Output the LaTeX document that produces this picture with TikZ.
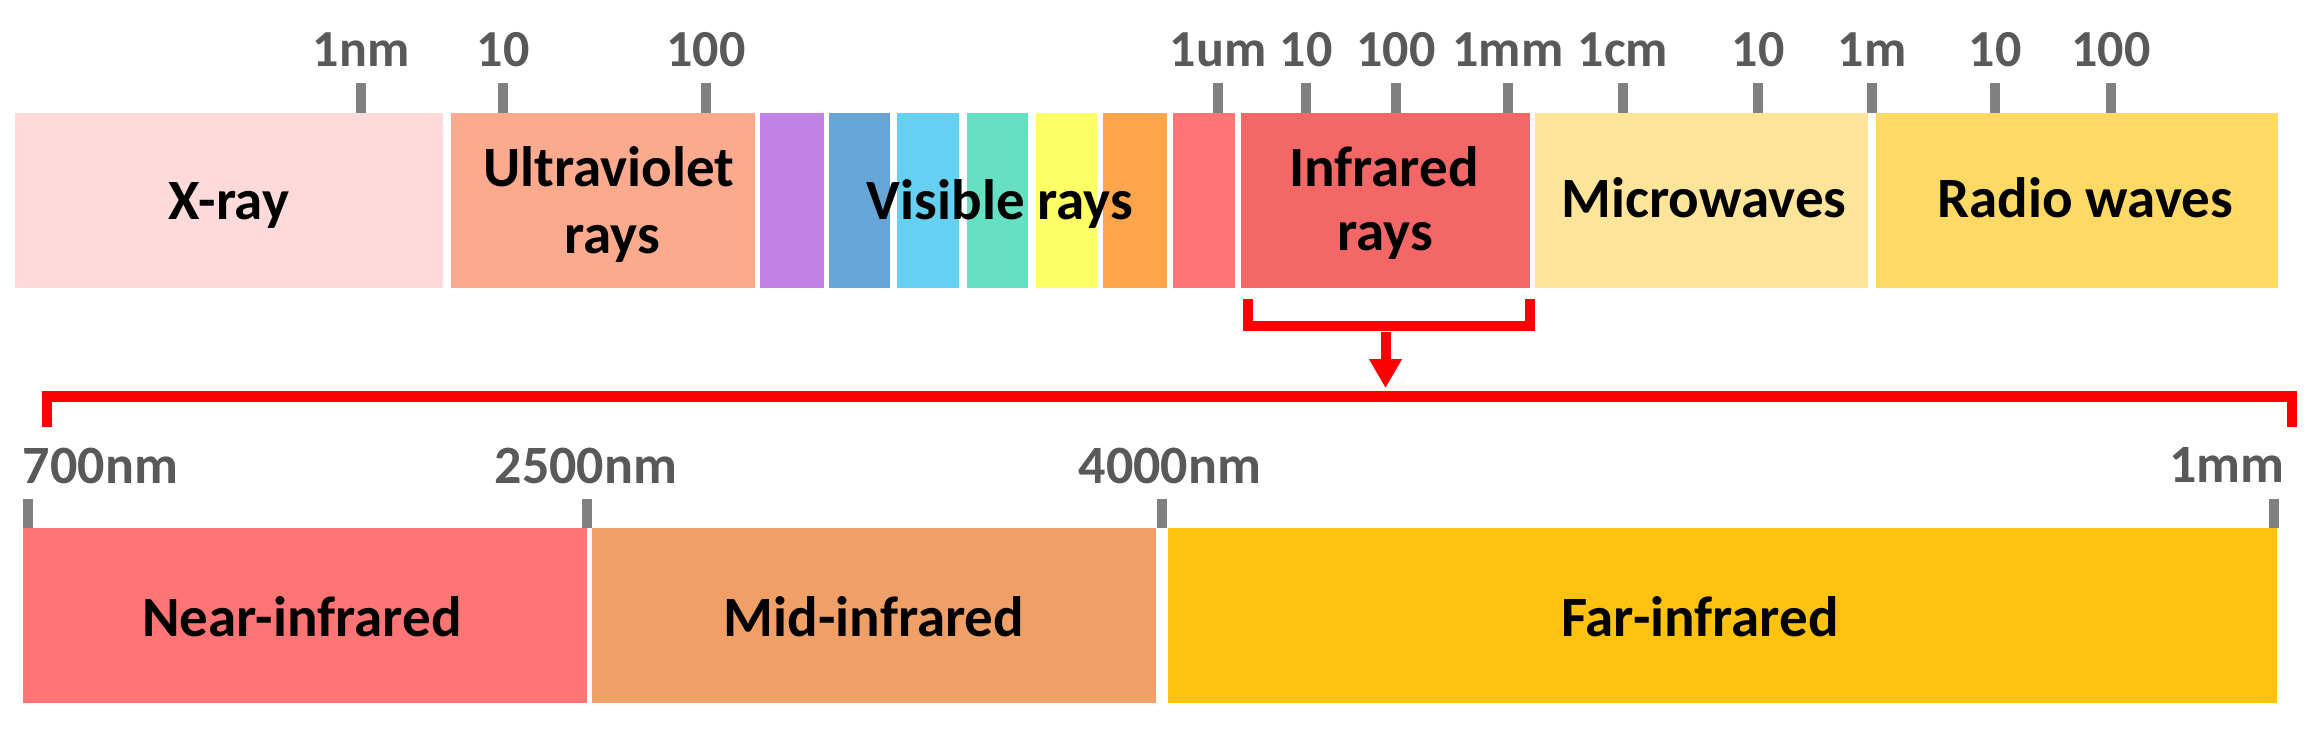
\documentclass[tikz,border=0pt]{standalone}
\usepackage{fontspec}
\setmainfont{Carlito}
\usetikzlibrary{arrows.meta}
\definecolor{cXray}{HTML}{FFDADA}
\definecolor{cUV}{HTML}{FCAA8E}
\definecolor{cPurple}{HTML}{C080E6}
\definecolor{cBlue}{HTML}{66A5D5}
\definecolor{cCyan}{HTML}{66D0F2}
\definecolor{cTeal}{HTML}{66E0C2}
\definecolor{cYellow}{HTML}{FFFF66}
\definecolor{cOrange}{HTML}{FFA64D}
\definecolor{cRedA}{HTML}{FF7575}
\definecolor{cIR}{HTML}{F46767}
\definecolor{cMicro}{HTML}{FFE599}
\definecolor{cRadio}{HTML}{FFD966}
\definecolor{cNear}{HTML}{FF7575}
\definecolor{cMid}{HTML}{F09F66}
\definecolor{cFar}{HTML}{FFC20E}
\definecolor{cTick}{HTML}{808080}
\definecolor{cTickText}{HTML}{595959}
\definecolor{cBracket}{HTML}{FF0000}
\tikzset{
  band/.style={inner sep=0pt, outer sep=0pt, draw=none, minimum height=175pt},
  lbl/.style={anchor=base, inner sep=0pt, font=\fontsize{57}{66}\selectfont\bfseries, text=black},
  ticklbl/.style={anchor=base, inner sep=0pt, font=\fontsize{52}{60}\selectfont\bfseries, text=cTickText},
  lowlbl/.style={anchor=base, inner sep=0pt, font=\fontsize{54}{62}\selectfont\bfseries, text=cTickText},
  tickmark/.style={draw=cTick, line width=10pt},
  bracket/.style={draw=cBracket, line width=10.5pt, line join=miter},
}
\begin{document}
\begin{tikzpicture}[x=1pt, y=-1pt]
\useasboundingbox[fill=white] (0,0) rectangle (2313,729);
% top band
\node[band, fill=cXray,   minimum width=428pt] (xray)   at (229,200.5) {};
\node[band, fill=cUV,     minimum width=304pt] (uv)     at (603,200.5) {};
\node[band, fill=cPurple, minimum width=64pt]  (vpur)   at (792,200.5) {};
\node[band, fill=cBlue,   minimum width=61pt]  (vblu)   at (859.5,200.5) {};
\node[band, fill=cCyan,   minimum width=62pt]  (vcya)   at (928,200.5) {};
\node[band, fill=cTeal,   minimum width=61pt]  (vtea)   at (997.5,200.5) {};
\node[band, fill=cYellow, minimum width=61pt]  (vyel)   at (1066.5,200.5) {};
\node[band, fill=cOrange, minimum width=64pt]  (vora)   at (1135,200.5) {};
\node[band, fill=cRedA,   minimum width=62pt]  (vred)   at (1204,200.5) {};
\node[band, fill=cIR,     minimum width=289pt] (ir)     at (1385.5,200.5) {};
\node[band, fill=cMicro,  minimum width=333pt] (micro)  at (1701.5,200.5) {};
\node[band, fill=cRadio,  minimum width=402pt] (radio)  at (2077,200.5) {};
% top labels
\node[lbl] (lxray)  at (229,219) {X-ray};
\node[lbl] (luv1)   at (609,186) {Ultraviolet};
\node[lbl] (luv2)   at (612,253) {rays};
\node[lbl] (lvis)   at (1000,219) {Visible rays};
\node[lbl] (lir1)   at (1384,186) {Infrared};
\node[lbl] (lir2)   at (1385,250) {rays};
\node[lbl] (lmicro) at (1704,217) {Microwaves};
\node[lbl] (lradio) at (2085,217) {Radio waves};
% top ticks
\foreach \x/\t [count=\i] in {361/1nm, 503/10, 706/100, 1218/1um, 1306/10, 1396/100, 1508/1mm, 1623/1cm, 1758/10, 1872/1m, 1995/10, 2111/100}{
  \draw[tickmark] (\x,83) -- (\x,113);
  \node[ticklbl] (tt\i) at (\x,66) {\t};
}
% small bracket and arrow
\draw[bracket] (1248,299) -- (1248,326) -- (1530,326) -- (1530,299);
\coordinate (arrS) at (1385.5,332);
\coordinate (arrE) at (1385.5,388);
\draw[draw=cBracket, line width=10pt, -{Triangle[width=31pt,length=29pt]}] (arrS) -- (arrE);
% big bracket
\draw[bracket] (47,427) -- (47,396.5) -- (2292,396.5) -- (2292,427);
% lower band
\node[band, fill=cNear, minimum width=564pt]  (near) at (305,615.5) {};
\node[band, fill=cMid,  minimum width=564pt]  (mid)  at (874,615.5) {};
\node[band, fill=cFar,  minimum width=1109pt] (far)  at (1722.5,615.5) {};
\node[lbl] (lnear) at (302,636) {Near-infrared};
\node[lbl] (lmid)  at (874,636) {Mid-infrared};
\node[lbl] (lfar)  at (1700,636) {Far-infrared};
% lower ticks
\draw[tickmark] (28,499) -- (28,528);
\draw[tickmark] (587,499) -- (587,528);
\draw[tickmark] (1162,499) -- (1162,528);
\draw[tickmark] (2273.5,499) -- (2273.5,528);
\node[lowlbl, anchor=base west] (b1) at (22.7,483) {700nm};
\node[lowlbl] (b2) at (586,483) {2500nm};
\node[lowlbl] (b3) at (1170,483) {4000nm};
\node[lowlbl, anchor=base east] (b4) at (2285,482) {1mm};
\end{tikzpicture}
\end{document}
